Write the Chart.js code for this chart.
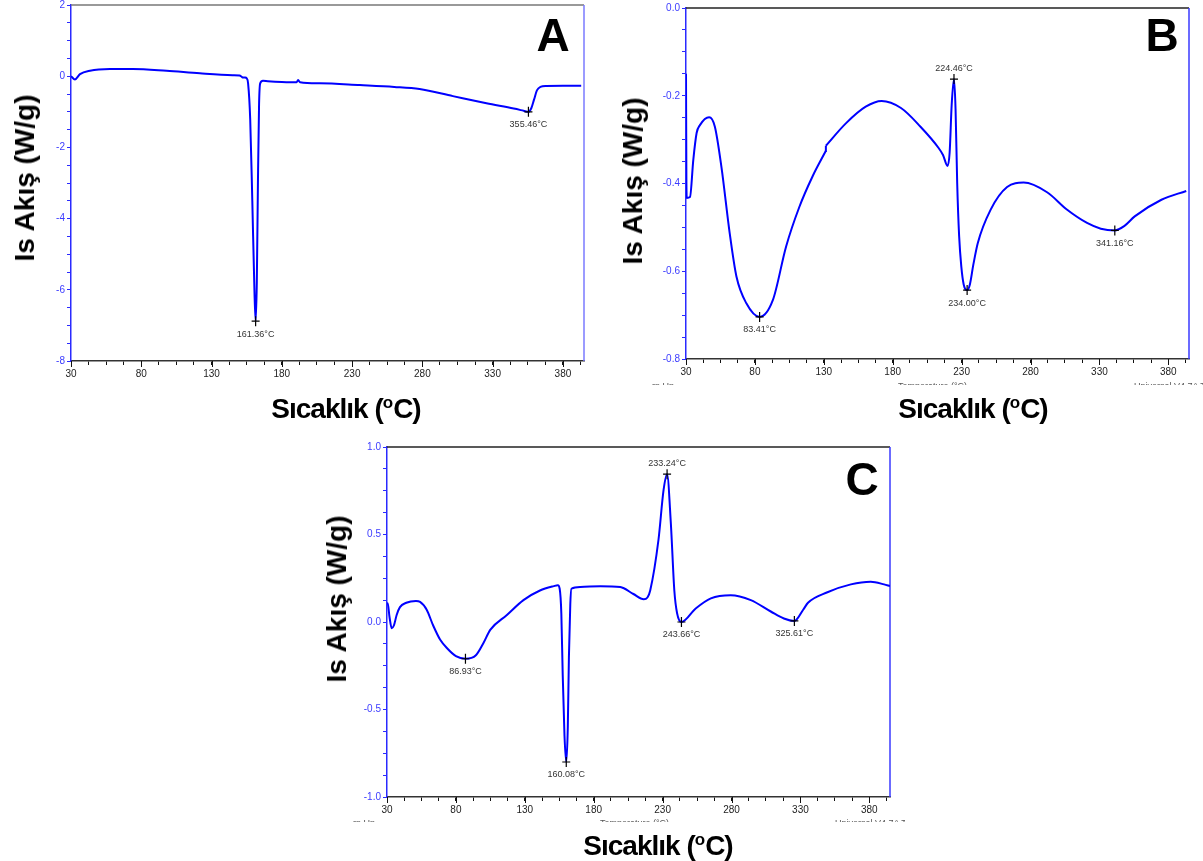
<!DOCTYPE html>
<html>
<head>
<meta charset="utf-8">
<script src="https://cdn.jsdelivr.net/npm/chart.js@4.4.1/dist/chart.umd.min.js"></script>
<style>
  html, body { margin: 0; padding: 0; background: #fff; overflow: hidden; }
  #page { position: relative; width: 1203px; height: 861px; font-family: "Liberation Sans", Arial, sans-serif; }
  #page canvas { position: absolute; left: 0; top: 0; }
  .xt { position: absolute; font-weight: bold; font-size: 28px; letter-spacing: -1px; color: #000; white-space: nowrap; transform: translate(-50%, -50%); line-height: 1; }
  .xt sup { font-size: 17px; vertical-align: 0; position: relative; top: -10px; letter-spacing: 0; }
  .yt { position: absolute; font-weight: bold; font-size: 28px; color: #000; white-space: nowrap; transform: translate(-50%, -50%) rotate(-90deg); line-height: 1; }
  .tag { position: absolute; font-weight: bold; font-size: 46px; color: #000; transform: translate(-50%, -50%); line-height: 1; }
  .cut { position: absolute; height: 4px; overflow: hidden; font-size: 9px; color: #555; white-space: nowrap; line-height: 11px; }
</style>
</head>
<body>
<div id="page">
  <canvas id="cA" width="1203" height="861"></canvas>
  <canvas id="cB" width="1203" height="861"></canvas>
  <canvas id="cC" width="1203" height="861"></canvas>

  <div class="tag" style="left:553px; top:35px;">A</div>
  <div class="tag" style="left:1162px; top:35px;">B</div>
  <div class="tag" style="left:862px; top:479px;">C</div>

  <div class="xt" style="left:346px; top:409px;">Sıcaklık (<sup>o</sup>C)</div>
  <div class="xt" style="left:973px; top:409px;">Sıcaklık (<sup>o</sup>C)</div>
  <div class="xt" style="left:658px; top:846px;">Sıcaklık (<sup>o</sup>C)</div>

  <div class="yt" style="left:25px; top:178px;">Is Akış (W/g)</div>
  <div class="yt" style="left:633px; top:181px;">Is Akış (W/g)</div>
  <div class="yt" style="left:337px; top:599px;">Is Akış (W/g)</div>

  <div class="cut" style="left:652px; top:381px;">rn Up</div>
  <div class="cut" style="left:898px; top:381px;">Temperature (°C)</div>
  <div class="cut" style="left:1134px; top:381px;">Universal V4.7A TA Instruments</div>
  <div class="cut" style="left:353px; top:818px;">rn Up</div>
  <div class="cut" style="left:600px; top:818px;">Temperature (°C)</div>
  <div class="cut" style="left:835px; top:818px; width:70px;">Universal V4.7A TA Instruments</div>
</div>

<script>
// ---- Sample A ----
const tempA = [30, 32.8, 36.4, 43.5, 57.7, 74, 98, 121.7, 145, 150, 151.4, 152.5, 154, 155, 156,
  157.5, 159, 160.5, 161.36, 162.2, 163, 163.8, 164.6, 166.6, 170, 180, 190.5, 191.6, 193, 207,
  235.5, 260, 278, 301.7, 325.6, 345, 352, 355.46, 357.5, 359.5, 361.5, 364, 368, 380, 393];
const heatA = [0, -0.09, 0.06, 0.155, 0.2, 0.2, 0.15, 0.08, 0.03, 0.02, -0.015, -0.04, -0.04, -0.06, -0.2,
  -1.2, -3.5, -6.0, -6.88, -5.8, -3.0, -0.8, -0.2, -0.13, -0.14, -0.16, -0.17, -0.11, -0.17, -0.2,
  -0.25, -0.3, -0.36, -0.56, -0.76, -0.91, -0.97, -1.0, -0.9, -0.65, -0.4, -0.3, -0.275, -0.27, -0.27];
const breaksA = [];
const peakTempA = [161.36, 355.46];
const peakHeatA = [-6.88, -1.0];
const peakSideA = ['below', 'below'];
const yLabelsA = [2, 0, -2, -4, -6, -8];

// ---- Sample B ----
const tempB = [30, 30.3, 30.6, 32.9, 35.3, 37.7, 40.1, 46.8, 50.9, 55.7, 61.7, 66.6, 73.8, 83.41,
  93, 102.6, 112.3, 121.8, 131.4, 131.5, 146, 160.4, 172, 186, 200, 213.3, 216.5, 219.8, 221.3,
  222.8, 224.46, 225.6, 226.8, 228.2, 229.8, 231.5, 234.0, 236.0, 238.5, 241.7, 251, 263, 275,
  292, 306.6, 321, 331, 341.16, 348, 355.6, 375, 393];
const heatB = [-0.15, -0.40, -0.433, -0.431, -0.346, -0.285, -0.267, -0.249, -0.27, -0.362, -0.513, -0.612, -0.673, -0.704,
  -0.666, -0.544, -0.453, -0.384, -0.326, -0.314, -0.263, -0.225, -0.212, -0.228, -0.27, -0.319, -0.335, -0.36, -0.33,
  -0.22, -0.162, -0.23, -0.40, -0.52, -0.59, -0.63, -0.643, -0.63, -0.585, -0.536, -0.46, -0.408, -0.398,
  -0.42, -0.46, -0.49, -0.503, -0.507, -0.497, -0.475, -0.437, -0.417];
const breaksB = [131.5];   // small step in the signal
const peakTempB = [83.41, 224.46, 234.00, 341.16];
const peakHeatB = [-0.704, -0.162, -0.643, -0.507];
const peakSideB = ['below', 'above', 'below', 'below'];
const yLabelsB = [0, -0.2, -0.4, -0.6, -0.8];

// ---- Sample C ----
const tempC = [30, 30.5, 31.8, 33.4, 35, 37, 39.4, 44, 51, 54, 58.8, 63.5, 68.5, 73.6, 80, 86.93,
  94.5, 100, 104.9, 117, 129, 141, 151, 154, 155.3, 156.5, 157.5, 158.8, 160.08, 161.2, 162, 163,
  163.8, 170.3, 184.8, 199.3, 208.8, 216.3, 219, 221, 227, 230.7, 233.24, 236, 238.5, 240.5, 243.66,
  254, 265, 279.4, 294, 308.5, 318, 325.61, 332, 335.5, 349.6, 366.6, 381, 390.7, 395];
const heatC = [0.10, 0.107, 0.03, -0.035, -0.02, 0.04, 0.085, 0.11, 0.12, 0.115, 0.07, -0.02, -0.10, -0.15, -0.195, -0.21,
  -0.19, -0.12, -0.045, 0.04, 0.125, 0.18, 0.205, 0.21, 0.19, 0.05, -0.3, -0.65, -0.80, -0.6, -0.2, 0.1,
  0.19, 0.2, 0.205, 0.2, 0.16, 0.13, 0.14, 0.18, 0.47, 0.755, 0.845, 0.56, 0.18, 0.05, 0.0,
  0.077, 0.135, 0.153, 0.125, 0.06, 0.02, 0.006, 0.07, 0.11, 0.17, 0.215, 0.23, 0.215, 0.205];
const breaksC = [];
const peakTempC = [86.93, 160.08, 233.24, 243.66, 325.61];
const peakHeatC = [-0.21, -0.80, 0.845, 0.0, 0.006];
const peakSideC = ['below', 'below', 'above', 'below', 'below'];
const yLabelsC = [1, 0.5, 0, -0.5, -1];

// Temperature axis, shared by all three runs
const xLabels = [30, 80, 130, 180, 230, 280, 330, 380];
const xMin = 30, xMax = 395;
const xMinorPerMajor = 4;

const FONT = '"Liberation Sans", Arial, sans-serif';
const BLUE_AXIS = '#2a2aff';
const BLUE_TEXT = '#3c3cff';
const TRACE = '#0000ff';

function isOn(v, list) { return list.some(l => Math.abs(l - v) < 1e-6); }

// major labels plus evenly split minor ticks between them
function tickValues(labels, perMajor, lo, hi) {
  const out = [];
  const sorted = labels.slice().sort((a, b) => a - b);
  const step = (sorted[1] - sorted[0]) / perMajor;
  for (let v = sorted[0]; v <= hi + 1e-9; v += step) {
    if (v >= lo - 1e-9) out.push(+v.toFixed(6));
  }
  return out;
}

// one smooth trace per run; a step in the signal is joined by a straight riser
function traceDatasets(temps, heats, breaks) {
  const pts = temps.map((t, i) => ({ x: t, y: heats[i] }));
  const pieces = [[]];
  pts.forEach(p => {
    if (breaks.some(b => Math.abs(b - p.x) < 1e-9) && pieces[pieces.length - 1].length) pieces.push([]);
    pieces[pieces.length - 1].push(p);
  });
  const sets = [];
  pieces.forEach((piece, k) => {
    sets.push({ data: piece, borderColor: TRACE, borderWidth: 2, pointRadius: 0,
      cubicInterpolationMode: 'monotone', fill: false });
    if (k > 0) {
      const prev = pieces[k - 1];
      sets.push({ data: [prev[prev.length - 1], piece[0]], borderColor: TRACE, borderWidth: 2,
        pointRadius: 0, tension: 0, fill: false });
    }
  });
  return sets;
}

// peak crosses with their temperature readouts
const peakPlugin = {
  id: 'peakMarks',
  afterDatasetsDraw(chart) {
    const cfg = chart.options.plugins.peakMarks;
    if (!cfg) return;
    const ctx = chart.ctx, xs = chart.scales.x, ys = chart.scales.y;
    ctx.save();
    cfg.temps.forEach((t, i) => {
      const px = xs.getPixelForValue(t);
      const py = ys.getPixelForValue(cfg.heats[i]);
      ctx.strokeStyle = '#000';
      ctx.lineWidth = 1.2;
      ctx.beginPath();
      ctx.moveTo(px, py - 5); ctx.lineTo(px, py + 5);
      ctx.moveTo(px - 4, py); ctx.lineTo(px + 4, py);
      ctx.stroke();
      ctx.fillStyle = '#333';
      ctx.font = '9px ' + FONT;
      ctx.textAlign = 'center';
      ctx.textBaseline = 'middle';
      const ty = cfg.sides[i] === 'above' ? py - 11 : py + 13;
      ctx.fillText(t.toFixed(2) + '°C', px, ty);
    });
    ctx.restore();
  }
};

// frame lines on the top and right of the plot area, longer marks at labelled temperatures
const framePlugin = {
  id: 'frameLines',
  beforeDatasetsDraw(chart) {
    const cfg = chart.options.plugins.frameLines;
    if (!cfg) return;
    const a = chart.chartArea, ctx = chart.ctx, xs = chart.scales.x;
    ctx.save();
    ctx.lineWidth = 1.5;
    ctx.strokeStyle = cfg.top;
    ctx.beginPath(); ctx.moveTo(a.left, a.top); ctx.lineTo(a.right, a.top); ctx.stroke();
    ctx.strokeStyle = cfg.right;
    ctx.beginPath(); ctx.moveTo(a.right, a.top); ctx.lineTo(a.right, a.bottom); ctx.stroke();
    ctx.strokeStyle = '#111';
    ctx.lineWidth = 1;
    xLabels.forEach(v => {
      const px = Math.round(xs.getPixelForValue(v)) + 0.5;
      ctx.beginPath(); ctx.moveTo(px, a.bottom); ctx.lineTo(px, a.bottom + 6); ctx.stroke();
    });
    ctx.restore();
  }
};

function makeChart(id, temps, heats, breaks, box, yLabels, yMinorPerMajor, yFmt, peaks, frame) {
  const yMin = Math.min(...yLabels), yMax = Math.max(...yLabels);
  const xTicks = tickValues(xLabels, xMinorPerMajor, xMin, xMax);
  const yTicks = tickValues(yLabels, yMinorPerMajor, yMin, yMax);
  const yW = 40, xH = 25;
  return new Chart(document.getElementById(id), {
    type: 'line',
    data: { datasets: traceDatasets(temps, heats, breaks) },
    options: {
      responsive: false,
      animation: false,
      events: [],
      layout: {
        padding: { left: box.left - yW, right: 1203 - box.right, top: box.top, bottom: 861 - box.bottom - xH }
      },
      plugins: {
        legend: { display: false },
        tooltip: { enabled: false },
        peakMarks: peaks,
        frameLines: frame
      },
      scales: {
        x: {
          type: 'linear', min: xMin, max: xMax,
          afterFit: s => { s.height = xH; },
          afterBuildTicks: s => { s.ticks = xTicks.map(v => ({ value: v })); },
          border: { color: '#333', width: 1.5 },
          grid: { drawOnChartArea: false, drawTicks: true, tickLength: 4, tickColor: '#111', tickWidth: 1 },
          ticks: {
            autoSkip: false, maxRotation: 0, padding: 3,
            color: '#222', font: { size: 10, family: FONT },
            callback: v => isOn(v, xLabels) ? String(Math.round(v)) : ''
          }
        },
        y: {
          type: 'linear', min: yMin, max: yMax,
          afterFit: s => { s.width = yW; },
          afterBuildTicks: s => { s.ticks = yTicks.map(v => ({ value: v })); },
          border: { color: BLUE_AXIS, width: 1.5 },
          grid: { drawOnChartArea: false, drawTicks: true, tickLength: 4, tickColor: BLUE_AXIS, tickWidth: 1 },
          ticks: {
            autoSkip: false, padding: 2,
            color: BLUE_TEXT, font: { size: 10, family: FONT, lineHeight: 0.6 },
            callback: v => isOn(v, yLabels) ? yFmt(v) : ''
          }
        }
      }
    },
    plugins: [framePlugin, peakPlugin]
  });
}

const intFmt = v => String(Math.round(v));
const oneDec = v => (Math.abs(v) < 1e-9 ? 0 : v).toFixed(1);

makeChart('cA', tempA, heatA, breaksA, { left: 71, right: 584, top: 5, bottom: 361 },
  yLabelsA, 4, intFmt,
  { temps: peakTempA, heats: peakHeatA, sides: peakSideA },
  { top: '#777777', right: '#7a7aff' });

makeChart('cB', tempB, heatB, breaksB, { left: 686, right: 1189, top: 8, bottom: 359 },
  yLabelsB, 4, oneDec,
  { temps: peakTempB, heats: peakHeatB, sides: peakSideB },
  { top: '#222222', right: '#3a3aff' });

makeChart('cC', tempC, heatC, breaksC, { left: 387, right: 890, top: 447, bottom: 797 },
  yLabelsC, 4, oneDec,
  { temps: peakTempC, heats: peakHeatC, sides: peakSideC },
  { top: '#222222', right: '#3a3aff' });
</script>
</body>
</html>
